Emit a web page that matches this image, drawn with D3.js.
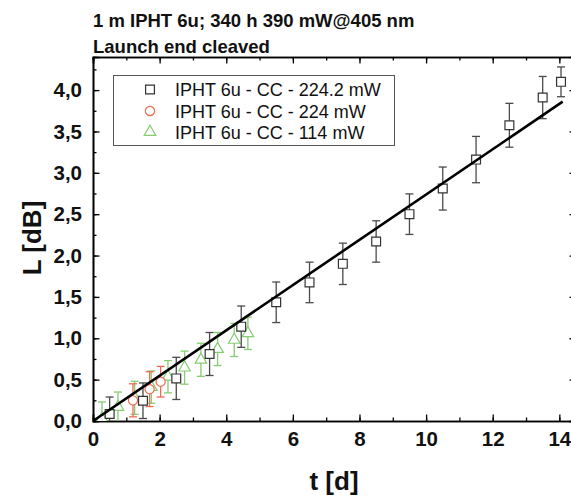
<!DOCTYPE html>
<html>
<head>
<meta charset="utf-8">
<script src="https://cdn.jsdelivr.net/npm/d3@7"></script>
<style>
  html, body { margin: 0; padding: 0; background: #fff; }
  svg { display: block; font-family: Arial, "Liberation Sans", Helvetica, sans-serif; }
</style>
</head>
<body>
<svg id="chart" width="571" height="497"></svg>
<script>
// ---- data ----
const titleLines = ["1 m IPHT 6u; 340 h 390 mW@405 nm", "Launch end cleaved"];
const xLabel = "t [d]";
const yLabel = "L [dB]";

const xTickValues = [0, 2, 4, 6, 8, 10, 12, 14];
const xTickLabels = ["0", "2", "4", "6", "8", "10", "12", "14"];
const yTickValues = [0, 0.5, 1, 1.5, 2, 2.5, 3, 3.5, 4];
const yTickLabels = ["0,0", "0,5", "1,0", "1,5", "2,0", "2,5", "3,0", "3,5", "4,0"];

const seriesNames = ["IPHT 6u - CC - 224.2 mW", "IPHT 6u - CC - 224 mW", "IPHT 6u - CC - 114 mW"];

const tBlack = [0.5, 1.5, 2.5, 3.5, 4.45, 5.5, 6.5, 7.5, 8.5, 9.5, 10.5, 11.5, 12.5, 13.5, 14.05];
const lBlack = [0.085, 0.245, 0.515, 0.81, 1.14, 1.435, 1.675, 1.9, 2.17, 2.5, 2.81, 3.16, 3.575, 3.91, 4.10];
const eBlack = [0.205, 0.215, 0.255, 0.26, 0.25, 0.245, 0.245, 0.25, 0.25, 0.245, 0.26, 0.28, 0.265, 0.255, 0.18];

const tRed = [1.2, 1.7, 2.03];
const lRed = [0.25, 0.385, 0.475];
const eRed = [0.2, 0.21, 0.185];

const tGreen = [0.27, 0.75, 1.25, 1.75, 2.25, 2.75, 3.24, 3.74, 4.24, 4.65];
const lGreen = [0.03, 0.17, 0.28, 0.41, 0.535, 0.645, 0.74, 0.87, 0.98, 1.06];
const eGreen = [0.2, 0.18, 0.2, 0.195, 0.195, 0.2, 0.2, 0.2, 0.2, 0.195];

const fitT = [0, 14.1];
const fitL = [0, 3.86];

// ---- layout ----
const svg = d3.select("#chart");
const plot = { left: 93, top: 57, right: 576, bottom: 421 };

const x = d3.scaleLinear().domain([0, 14.5]).range([plot.left, plot.right]);
const y = d3.scaleLinear().domain([0, 4.4]).range([plot.bottom, plot.top]);

const colBlack = "#333333", colBlackErr = "#4a4a4a";
const colRed = "#f26a4f";
const colGreen = "#86cc72";

svg.append("defs").append("clipPath").attr("id", "clip")
  .append("rect").attr("x", plot.left).attr("y", plot.top)
  .attr("width", plot.right - plot.left).attr("height", plot.bottom - plot.top);

// ---- title ----
svg.append("text").attr("x", 93).attr("y", 27).attr("font-size", 18.5).attr("font-weight", "bold")
  .attr("fill", "#111").text(titleLines[0]);
svg.append("text").attr("x", 93).attr("y", 52.5).attr("font-size", 18.5).attr("font-weight", "bold")
  .attr("fill", "#111").text(titleLines[1]);

// ---- axes ----
const xMinor = d3.range(0, 15, 1);
const yMinor = d3.range(0, 4.41, 0.25);

function styleAxis(g) {
  g.select(".domain").attr("stroke", "#000").attr("stroke-width", 1.6);
  g.selectAll(".tick line").attr("stroke", "#000").attr("stroke-width", 1.3);
}

// bottom
const gxMinor = svg.append("g").attr("transform", `translate(0,${plot.bottom})`)
  .call(d3.axisBottom(x).tickValues(xMinor).tickSize(-3.5).tickFormat(""));
styleAxis(gxMinor);
const gx = svg.append("g").attr("transform", `translate(0,${plot.bottom})`)
  .call(d3.axisBottom(x).tickValues(xTickValues).tickSize(-6.5).tickPadding(10.5)
    .tickFormat((d, i) => xTickLabels[i]));
styleAxis(gx);
gx.selectAll(".tick text").attr("font-size", 20.5).attr("font-weight", "bold").attr("fill", "#111")
  .attr("font-family", "Arial, 'Liberation Sans', sans-serif");

// top
const gtMinor = svg.append("g").attr("transform", `translate(0,${plot.top})`)
  .call(d3.axisTop(x).tickValues(xMinor).tickSize(-3.5).tickFormat(""));
styleAxis(gtMinor);
const gt = svg.append("g").attr("transform", `translate(0,${plot.top})`)
  .call(d3.axisTop(x).tickValues(xTickValues).tickSize(-6.5).tickFormat(""));
styleAxis(gt);

// left
const gyMinor = svg.append("g").attr("transform", `translate(${plot.left},0)`)
  .call(d3.axisLeft(y).tickValues(yMinor).tickSize(-3.5).tickFormat(""));
styleAxis(gyMinor);
const gy = svg.append("g").attr("transform", `translate(${plot.left},0)`)
  .call(d3.axisLeft(y).tickValues(yTickValues).tickSize(-6.5).tickPadding(11)
    .tickFormat((d, i) => yTickLabels[i]));
styleAxis(gy);
gy.selectAll(".tick text").attr("font-size", 20.5).attr("font-weight", "bold").attr("fill", "#111")
  .attr("font-family", "Arial, 'Liberation Sans', sans-serif");

// right
const grMinor = svg.append("g").attr("transform", `translate(${plot.right},0)`)
  .call(d3.axisRight(y).tickValues(yMinor).tickSize(-3.5).tickFormat(""));
styleAxis(grMinor);
const gr = svg.append("g").attr("transform", `translate(${plot.right},0)`)
  .call(d3.axisRight(y).tickValues(yTickValues).tickSize(-6.5).tickFormat(""));
styleAxis(gr);

// axis labels
svg.append("text").attr("x", 334).attr("y", 490).attr("text-anchor", "middle")
  .attr("font-size", 26).attr("font-weight", "bold").attr("fill", "#111").text(xLabel);
svg.append("text").attr("transform", "translate(41,238) rotate(-90)").attr("text-anchor", "middle")
  .attr("font-size", 26).attr("font-weight", "bold").attr("fill", "#111").text(yLabel);

// ---- data series ----
const gData = svg.append("g").attr("clip-path", "url(#clip)");

function zip(ts, ls, es) { return ts.map((t, i) => ({ t, l: ls[i], e: es[i] })); }

function errorBars(data, color) {
  const g = gData.append("g").attr("stroke", color).attr("stroke-width", 1.3).attr("fill", "none");
  const cap = 4;
  data.forEach(d => {
    const cx = x(d.t), y1 = y(d.l + d.e), y0 = y(d.l - d.e);
    g.append("line").attr("x1", cx).attr("x2", cx).attr("y1", y1).attr("y2", y0);
    g.append("line").attr("x1", cx - cap).attr("x2", cx + cap).attr("y1", y1).attr("y2", y1);
    g.append("line").attr("x1", cx - cap).attr("x2", cx + cap).attr("y1", y0).attr("y2", y0);
  });
}

const symSquare = d3.symbol().type(d3.symbolSquare).size(78);
const symCircle = d3.symbol().type(d3.symbolCircle).size(66);
const symTri = d3.symbol().type(d3.symbolTriangle).size(58);

function markers(data, sym, color) {
  gData.append("g").selectAll("path").data(data).join("path")
    .attr("d", sym)
    .attr("transform", d => `translate(${x(d.t)},${y(d.l)})`)
    .attr("fill", "#fff").attr("stroke", color).attr("stroke-width", 1.2);
}

const dGreen = zip(tGreen, lGreen, eGreen);
const dRed = zip(tRed, lRed, eRed);
const dBlack = zip(tBlack, lBlack, eBlack);

errorBars(dGreen, colGreen);
markers(dGreen, symTri, colGreen);
errorBars(dRed, colRed);
markers(dRed, symCircle, colRed);
errorBars(dBlack, colBlackErr);
markers(dBlack, symSquare, colBlack);

// fit line
gData.append("path")
  .datum(fitT.map((t, i) => [t, fitL[i]]))
  .attr("d", d3.line().x(d => x(d[0])).y(d => y(d[1])))
  .attr("stroke", "#000").attr("stroke-width", 2.6).attr("fill", "none");

// ---- legend ----
const legend = svg.append("g");
legend.append("rect").attr("x", 113.5).attr("y", 75.5).attr("width", 281).attr("height", 70)
  .attr("fill", "#fff").attr("stroke", "#555").attr("stroke-width", 1);
const legSyms = [symSquare, symCircle, symTri];
const legCols = [colBlack, colRed, colGreen];
const legY = [89.5, 111, 132];
seriesNames.forEach((name, i) => {
  legend.append("path").attr("d", legSyms[i]).attr("transform", `translate(150,${legY[i]})`)
    .attr("fill", "#fff").attr("stroke", legCols[i]).attr("stroke-width", 1.2);
  legend.append("text").attr("x", 175).attr("y", legY[i] + 6.5).attr("font-size", 18)
    .attr("fill", "#111").text(name);
});
</script>
</body>
</html>
